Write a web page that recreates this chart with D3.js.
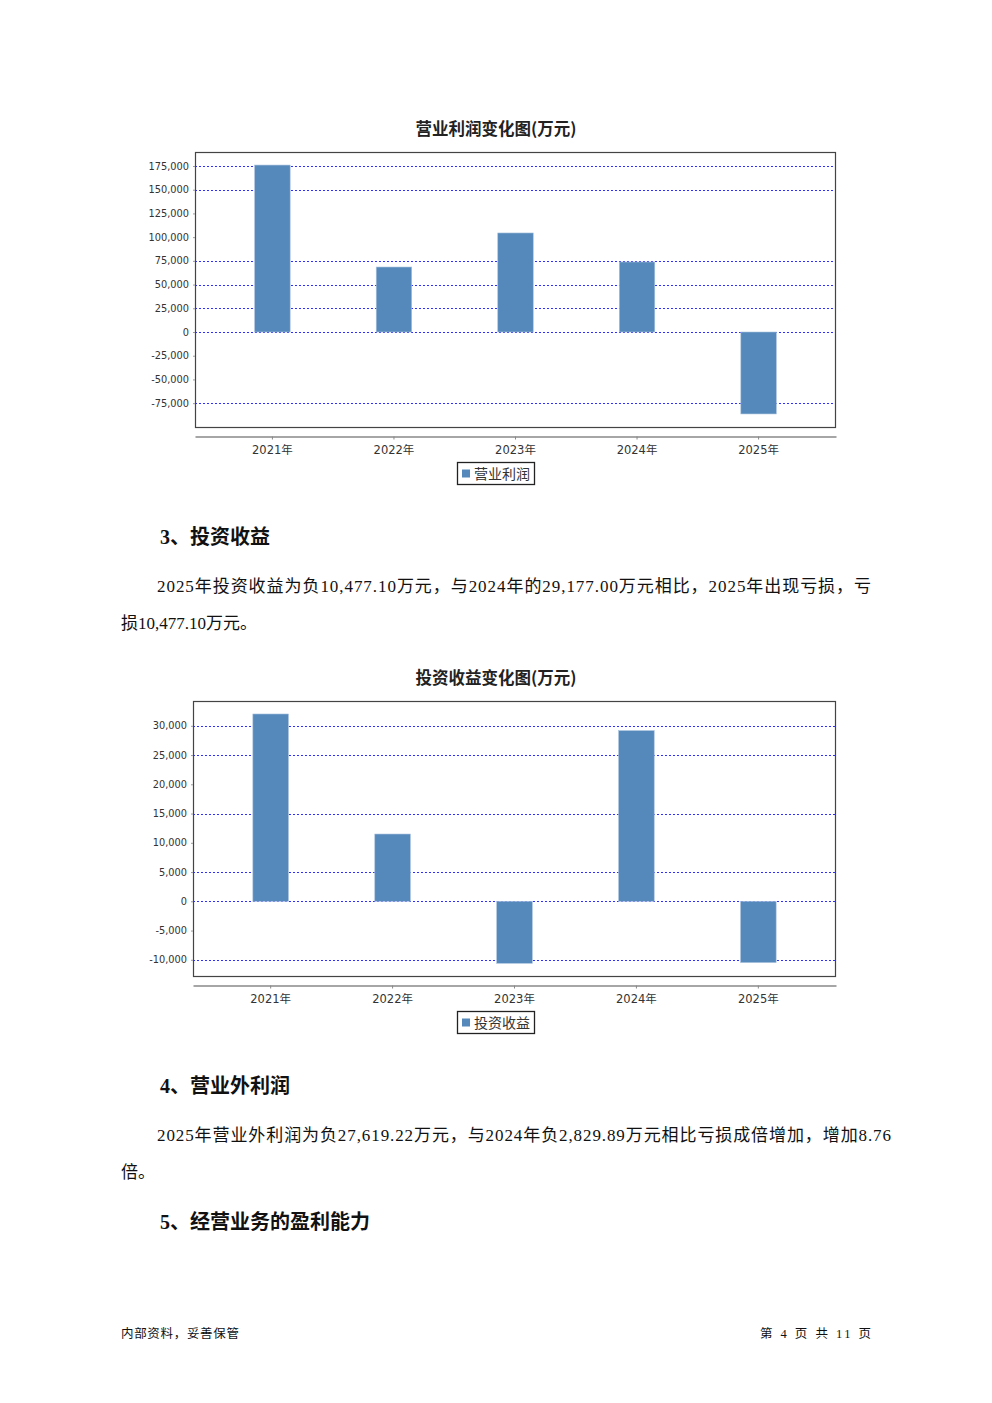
<!DOCTYPE html>
<html>
<head>
<meta charset="utf-8">
<script src="https://cdn.jsdelivr.net/npm/d3@7"></script>
<style>
  html, body { margin: 0; padding: 0; background: #fff; }
  svg { display: block; }
</style>
</head>
<body>
<script>
// ---------- data ----------
const categories = ["2021年", "2022年", "2023年", "2024年", "2025年"];
const operatingProfit = [176000, 68500, 104400, 73800, -86400];
const investIncome = [32020, 11500, -10600, 29177.00, -10477.10];

const profitTicks = [175000, 150000, 125000, 100000, 75000, 50000, 25000, 0, -25000, -50000, -75000];
const profitGrid = [175000, 150000, 75000, 50000, 25000, 0, -75000];
const investTicks = [30000, 25000, 20000, 15000, 10000, 5000, 0, -5000, -10000];
const investGrid = [30000, 25000, 15000, 5000, 0, -10000];

const profitTitle = "营业利润变化图(万元)";
const investTitle = "投资收益变化图(万元)";
const profitLegend = "营业利润";
const investLegend = "投资收益";

// ---------- drawing ----------
const W = 992, H = 1403;
const svg = d3.select("body").append("svg").attr("width", W).attr("height", H);
svg.append("rect").attr("width", W).attr("height", H).attr("fill", "#fff");

const BAR = "#5589bb";
const locale = d3.formatLocale({ decimal: ".", thousands: ",", grouping: [3], currency: ["", ""], minus: "-" });
const fmt = locale.format(",");

function drawChart(opt) {
  const g = svg.append("g");
  const { left, right, top, bottom } = opt.box;
  const x = d3.scaleBand().domain(categories).range([left, right]).paddingInner(0).paddingOuter(0.137);
  const y = d3.scaleLinear().domain(opt.domain).range([bottom, top]);
  const bw = x.step() * 0.292;

  // title
  g.append("text").attr("x", 496).attr("y", opt.titleY).attr("text-anchor", "middle")
    .attr("font-family", "'Noto Sans CJK SC', sans-serif").attr("font-weight", "bold")
    .attr("font-size", 16.5).attr("fill", "#222").text(opt.title);

  // gridlines
  g.append("g").selectAll("line").data(opt.grid).join("line")
    .attr("x1", left).attr("x2", right)
    .attr("y1", d => Math.round(y(d)) + 0.5).attr("y2", d => Math.round(y(d)) + 0.5)
    .attr("stroke", "#2f2fff").attr("stroke-width", 1).attr("stroke-dasharray", "2,2");

  // bars
  g.append("g").selectAll("rect").data(opt.values).join("rect")
    .attr("x", (d, i) => x(categories[i]) + x.bandwidth() / 2 - bw / 2)
    .attr("width", bw)
    .attr("y", d => y(Math.max(0, d)))
    .attr("height", d => Math.abs(y(d) - y(0)))
    .attr("fill", BAR)
    .attr("stroke", "#a9c2de").attr("stroke-width", 0.6);

  // plot box
  g.append("rect").attr("x", left + 0.5).attr("y", top + 0.5)
    .attr("width", right - left - 1).attr("height", bottom - top)
    .attr("fill", "none").attr("stroke", "#444").attr("stroke-width", 1.2);

  // y axis
  const yAxis = d3.axisLeft(y).tickValues(opt.ticks).tickFormat(fmt).tickSize(2).tickPadding(4);
  const ya = g.append("g").attr("transform", `translate(${left},0)`).call(yAxis);
  ya.select(".domain").remove();
  ya.selectAll(".tick line").attr("stroke", "#999");
  ya.selectAll(".tick text").attr("font-family", "'DejaVu Sans', sans-serif")
    .attr("font-size", 9.8).attr("fill", "#333");

  // x axis (separate, below plot)
  const xAxis = d3.axisBottom(x).tickSize(3).tickSizeOuter(0).tickPadding(6);
  const xa = g.append("g").attr("transform", `translate(0,${opt.xAxisY})`).call(xAxis);
  xa.select(".domain").attr("stroke", "#888").attr("stroke-width", 1.5);
  xa.selectAll(".tick line").attr("stroke", "#888");
  xa.selectAll(".tick text").attr("font-family", "'DejaVu Sans', 'Noto Sans CJK SC', sans-serif")
    .attr("font-size", 11.5).attr("fill", "#333");

  // legend
  const lg = g.append("g").attr("transform", `translate(457,${opt.legendY})`);
  lg.append("rect").attr("x", 0.5).attr("y", 0.5).attr("width", 77).attr("height", 22)
    .attr("fill", "#fff").attr("stroke", "#222").attr("stroke-width", 1.3);
  lg.append("rect").attr("x", 5).attr("y", 7.5).attr("width", 8).attr("height", 8).attr("fill", BAR);
  lg.append("text").attr("x", 17).attr("y", 16.5)
    .attr("font-family", "'Noto Sans CJK SC', sans-serif").attr("font-size", 14)
    .attr("fill", "#333").text(opt.legend);
}

drawChart({
  box: { left: 195, right: 836, top: 152, bottom: 427 },
  domain: [-100150, 189760],
  values: operatingProfit, ticks: profitTicks, grid: profitGrid,
  title: profitTitle, titleY: 135, xAxisY: 436.5, legendY: 462, legend: profitLegend
});

drawChart({
  box: { left: 193, right: 836, top: 701, bottom: 976 },
  domain: [-12770, 34240],
  values: investIncome, ticks: investTicks, grid: investGrid,
  title: investTitle, titleY: 684, xAxisY: 985.5, legendY: 1011, legend: investLegend
});

// ---------- body text ----------
const bodyFont = "'Liberation Serif', 'Noto Sans CJK SC', serif";
function txt(s, x, y, size, opts = {}) {
  const t = svg.append("text").attr("x", x).attr("y", y)
    .attr("font-family", opts.family || bodyFont).attr("font-size", size)
    .attr("fill", "#111").text(s);
  if (opts.bold) t.attr("font-weight", "bold");
  if (opts.len) t.attr("textLength", opts.len).attr("lengthAdjust", "spacing");
  if (opts.anchor) t.attr("text-anchor", opts.anchor);
  return t;
}
txt("3、投资收益", 160, 544, 20, { bold: true });
txt("2025年投资收益为负10,477.10万元，与2024年的29,177.00万元相比，2025年出现亏损，亏", 157, 592, 17, { len: 714 });
txt("损10,477.10万元。", 121, 629, 17);

txt("4、营业外利润", 160, 1093, 20, { bold: true });
txt("2025年营业外利润为负27,619.22万元，与2024年负2,829.89万元相比亏损成倍增加，增加8.76", 157, 1141, 17, { len: 734 });
txt("倍。", 121, 1178, 17);

txt("5、经营业务的盈利能力", 160, 1229, 20, { bold: true });

// footer
txt("内部资料，妥善保管", 121, 1338, 12.5, { family: "'Noto Sans CJK SC', sans-serif", len: 118 });
txt("第 4 页  共 11 页", 760, 1338, 12.5, { len: 111 });
</script>
</body>
</html>
